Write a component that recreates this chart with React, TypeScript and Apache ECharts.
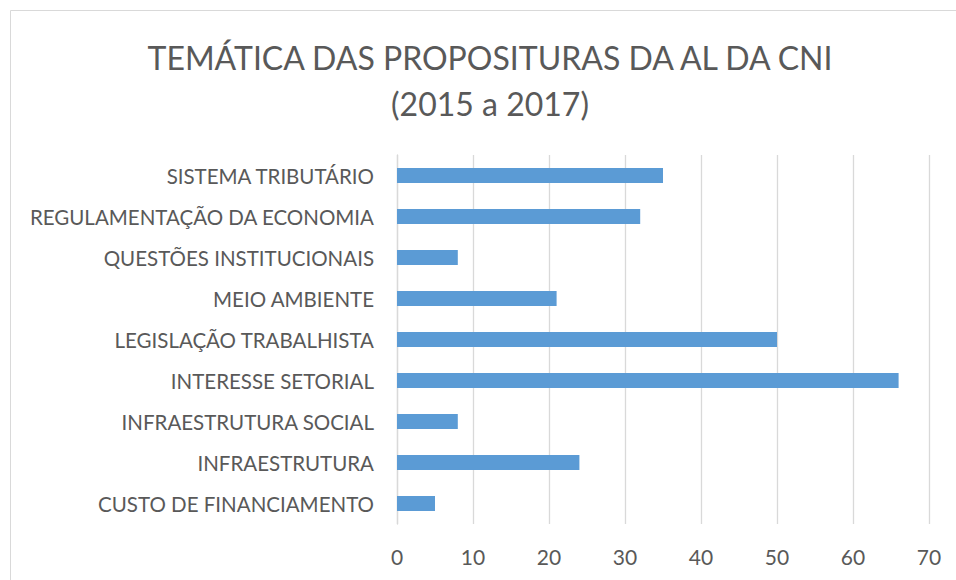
import React, { useEffect, useRef } from "react";
import * as echarts from "echarts";

const categories = [
  "CUSTO DE FINANCIAMENTO",
  "INFRAESTRUTURA",
  "INFRAESTRUTURA SOCIAL",
  "INTERESSE SETORIAL",
  "LEGISLAÇÃO TRABALHISTA",
  "MEIO AMBIENTE",
  "QUESTÕES INSTITUCIONAIS",
  "REGULAMENTAÇÃO DA ECONOMIA",
  "SISTEMA TRIBUTÁRIO",
];
const values = [5, 24, 8, 66, 50, 21, 8, 32, 35];
const titleLine1 = "TEMÁTICA DAS PROPOSITURAS DA AL DA CNI";
const titleLine2 = "(2015 a 2017)";

const FONT = "Lato, 'Noto Sans', sans-serif";

export default function App() {
  const ref = useRef<HTMLDivElement>(null);
  useEffect(() => {
    if (!ref.current) return;
    const chart = echarts.init(ref.current, undefined, { renderer: "svg" });
    chart.setOption({
      animation: false,
      backgroundColor: "#ffffff",
      graphic: [
        {
          type: "rect",
          shape: { x: 10.5, y: 10.5, width: 1000, height: 700 },
          style: { fill: "none", stroke: "#d9d9d9", lineWidth: 1 },
          silent: true,
        },
        {
          type: "text",
          x: 490,
          y: 57,
          style: {
            text: titleLine1,
            font: `32px ${FONT}`,
            fill: "#595959",
            textAlign: "center",
            textVerticalAlign: "middle",
          },
        },
        {
          type: "text",
          x: 490,
          y: 103,
          style: {
            text: titleLine2,
            font: `32px ${FONT}`,
            fill: "#595959",
            textAlign: "center",
            textVerticalAlign: "middle",
          },
        },
      ],
      grid: { left: 397, top: 155, width: 532, height: 369, containLabel: false },
      xAxis: {
        type: "value",
        min: 0,
        max: 70,
        interval: 10,
        axisLine: { show: false },
        axisTick: { show: false },
        splitLine: { show: true, lineStyle: { color: "#d9d9d9", width: 1.3 } },
        axisLabel: { color: "#595959", fontSize: 21, fontFamily: FONT, margin: 22 },
      },
      yAxis: {
        type: "category",
        data: categories,
        axisLine: { show: true, lineStyle: { color: "#d9d9d9", width: 1.3 } },
        axisTick: { show: false },
        axisLabel: { color: "#595959", fontSize: 20.5, fontFamily: FONT, margin: 23 },
      },
      series: [
        {
          type: "bar",
          data: values,
          barWidth: 15,
          itemStyle: { color: "#5b9bd5" },
        },
      ],
    });
    return () => chart.dispose();
  }, []);
  return (
    <div
      ref={ref}
      style={{ position: "fixed", left: 0, top: 0, width: 956, height: 580 }}
    />
  );
}
